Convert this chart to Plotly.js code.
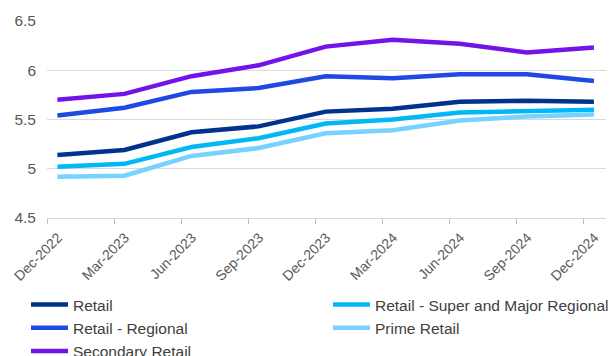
<!DOCTYPE html>
<html>
<head>
<meta charset="utf-8">
<script src="https://cdn.plot.ly/plotly-3.0.1.min.js"></script>
<style>html,body{margin:0;padding:0;background:#fff;}#chart{width:616px;height:356px;}</style>
</head>
<body>
<div id="chart"></div>
<script>
const periods = ["Dec-2022","Mar-2023","Jun-2023","Sep-2023","Dec-2023","Mar-2024","Jun-2024","Sep-2024","Dec-2024"];
const retail =        [5.14, 5.19, 5.37, 5.43, 5.58, 5.61, 5.68, 5.69, 5.68];
const superMajor =    [5.02, 5.05, 5.22, 5.31, 5.46, 5.50, 5.57, 5.59, 5.60];
const regional =      [5.54, 5.62, 5.78, 5.82, 5.94, 5.92, 5.96, 5.96, 5.89];
const prime =         [4.92, 4.93, 5.13, 5.21, 5.36, 5.39, 5.49, 5.53, 5.55];
const secondary =     [5.70, 5.76, 5.94, 6.05, 6.24, 6.31, 6.27, 6.18, 6.23];
const yTicks = [4.5, 5, 5.5, 6, 6.5];
const yTickText = ["4.5", "5", "5.5", "6", "6.5"];

const idx = periods.map((p, i) => i);
const series = [
  {name: "Retail", y: retail, color: "#00338D", legend: "legend"},
  {name: "Retail - Super and Major Regional", y: superMajor, color: "#00B8F5", legend: "legend2"},
  {name: "Retail - Regional", y: regional, color: "#1E49E2", legend: "legend"},
  {name: "Prime Retail", y: prime, color: "#76D2FF", legend: "legend2"},
  {name: "Secondary Retail", y: secondary, color: "#7213EA", legend: "legend"}
];
const traces = series.map(s => ({
  type: "scatter", mode: "lines", name: s.name, x: idx, y: s.y, legend: s.legend,
  line: {color: s.color, width: 4.5, shape: "linear"}
}));

const legendBase = {
  orientation: "v",
  xref: "container", yref: "container",
  xanchor: "left", yanchor: "top",
  itemwidth: 37,
  traceorder: "normal",
  font: {size: 15.5, color: "#404040"},
  bgcolor: "rgba(0,0,0,0)",
  borderwidth: 0
};

const layout = {
  width: 616, height: 356,
  margin: {l: 47, r: 10, t: 21, b: 138, autoexpand: false},
  paper_bgcolor: "#fff", plot_bgcolor: "#fff",
  font: {family: "Liberation Sans, Arial, sans-serif", color: "#595959"},
  xaxis: {
    range: [-0.155, 8.18],
    automargin: false,
    tickmode: "array",
    tickvals: idx.map(i => i - 0.155),
    ticktext: periods,
    tickangle: -45,
    ticklabelshift: 11,
    ticks: "outside", ticklen: 5, tickcolor: "#bfbfbf", tickwidth: 1,
    showline: true, linecolor: "#d9d9d9", linewidth: 1,
    showgrid: false, zeroline: false,
    tickfont: {size: 14, color: "#595959"}
  },
  yaxis: {
    range: [4.5, 6.5],
    automargin: false,
    tickmode: "array", tickvals: yTicks, ticktext: yTickText,
    showgrid: true, gridcolor: "#d9d9d9", gridwidth: 1,
    showline: false, zeroline: false, ticks: "",
    ticklabelstandoff: 10,
    tickfont: {size: 15.5, color: "#595959"}
  },
  showlegend: true,
  legend: Object.assign({}, legendBase, {x: 26 / 616, y: 1 - 288 / 356}),
  legend2: Object.assign({}, legendBase, {x: 328 / 616, y: 1 - 288 / 356})
};
Plotly.newPlot("chart", traces, layout, {displayModeBar: false, staticPlot: true});
</script>
</body>
</html>
